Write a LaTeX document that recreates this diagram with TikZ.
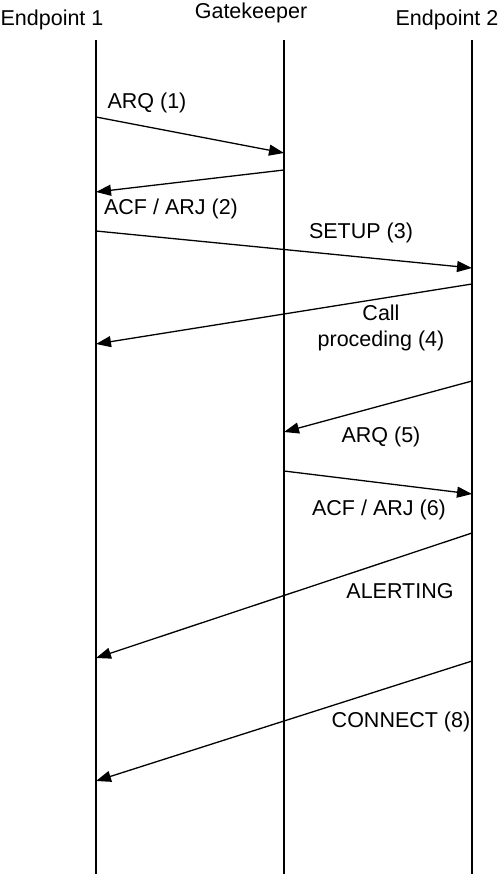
\documentclass[tikz,border=0pt]{standalone}
\usepackage{fontspec}
\setmainfont{Liberation Sans}
\usetikzlibrary{arrows.meta}
\begin{document}
\begin{tikzpicture}[x=1pt,y=-1pt,
  lbl/.style={inner sep=0pt,font=\fontsize{21.5}{26}\selectfont,align=center},
  life/.style={line width=1.3pt},
  msg/.style={line width=1.3pt,-{Triangle[length=15pt,width=11pt]}}]
\useasboundingbox (0,0) rectangle (501,874);
% headers
\node[lbl] (h1) at (52,20) {Endpoint 1};
\node[lbl] (h2) at (251,13) {Gatekeeper};
\node[lbl] (h3) at (447,20) {Endpoint 2};
% lifelines
\coordinate (t1) at (96,40);  \coordinate (b1) at (96,874);
\coordinate (t2) at (284,40); \coordinate (b2) at (284,874);
\coordinate (t3) at (472,40); \coordinate (b3) at (472,874);
\draw[life] (t1) -- (b1);
\draw[life] (t2) -- (b2);
\draw[life] (t3) -- (b3);
% message end points
\coordinate (a1) at (96,117);  \coordinate (a1e) at (284,153);
\coordinate (a2) at (284,170); \coordinate (a2e) at (96,192);
\coordinate (a3) at (96,231);  \coordinate (a3e) at (472,268);
\coordinate (a4) at (472,284); \coordinate (a4e) at (96,344);
\coordinate (a5) at (472,381); \coordinate (a5e) at (284,432);
\coordinate (a6) at (284,471); \coordinate (a6e) at (472,494);
\coordinate (a7) at (472,533); \coordinate (a7e) at (96,658);
\coordinate (a8) at (472,661); \coordinate (a8e) at (96,781);
\draw[msg] (a1) -- (a1e);
\draw[msg] (a2) -- (a2e);
\draw[msg] (a3) -- (a3e);
\draw[msg] (a4) -- (a4e);
\draw[msg] (a5) -- (a5e);
\draw[msg] (a6) -- (a6e);
\draw[msg] (a7) -- (a7e);
\draw[msg] (a8) -- (a8e);
% labels
\node[lbl] (l1) at (147,103) {ARQ (1)};
\node[lbl] (l2) at (171,209) {ACF / ARJ (2)};
\node[lbl] (l3) at (361,233) {SETUP (3)};
\node[lbl] (l4) at (381,328) {Call\\proceding (4)};
\node[lbl] (l5) at (381,437) {ARQ (5)};
\node[lbl] (l6) at (379,510) {ACF / ARJ (6)};
\node[lbl] (l7) at (400,591) {ALERTING};
\node[lbl] (l8) at (401,722) {CONNECT (8)};
\end{tikzpicture}
\end{document}
